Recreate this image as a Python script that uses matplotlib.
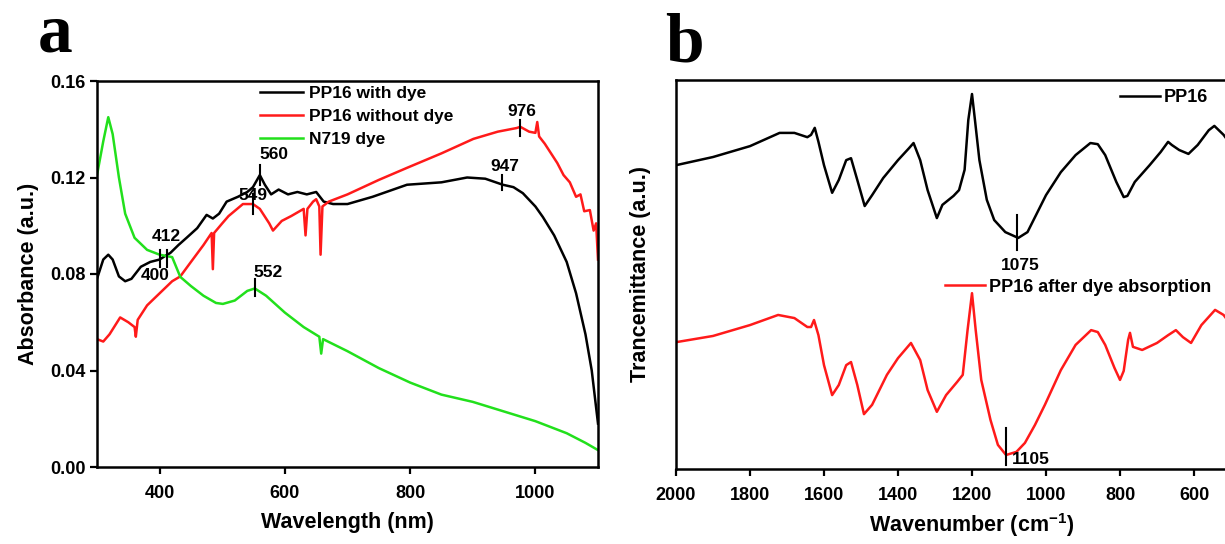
import matplotlib
matplotlib.use("Agg")
import matplotlib.pyplot as plt
from matplotlib.lines import Line2D

plt.rcParams['font.family'] = ['Liberation Sans', 'DejaVu Sans']
plt.rcParams['font.weight'] = 'bold'
plt.rcParams['mathtext.fontset'] = 'custom'
plt.rcParams['mathtext.bf'] = 'Liberation Sans:bold'
plt.rcParams['mathtext.rm'] = 'Liberation Sans:bold'

# ---------------- Panel a : UV-vis absorbance ----------------
wl_with = [300, 310, 318, 325, 335, 345, 355, 370, 385, 400, 412, 417, 430, 443, 460, 475, 485, 495,
           507, 525, 540, 549, 560, 568, 578, 590, 605, 620, 635, 650, 662, 677, 700, 740,
           795, 850, 891, 920, 948, 965, 980, 1000, 1012, 1030, 1050, 1065, 1080, 1090, 1100]
abs_with = [0.078, 0.086, 0.088, 0.086, 0.079, 0.077, 0.078, 0.083, 0.085, 0.086, 0.088, 0.0887, 0.092,
            0.095, 0.099, 0.1045, 0.103, 0.105, 0.110, 0.112, 0.114, 0.116, 0.121, 0.117, 0.113,
            0.115, 0.113, 0.114, 0.113, 0.114, 0.110, 0.109, 0.109, 0.112, 0.117, 0.118, 0.120,
            0.1195, 0.117, 0.116, 0.1135, 0.108, 0.1036, 0.096, 0.085, 0.072, 0.055, 0.040, 0.018]

wl_without = [300, 310, 320, 337, 350, 360, 362, 365, 380, 400, 420, 433, 450, 470, 483, 485, 487,
              500, 510, 533, 549, 560, 575, 581, 595, 610, 630, 633, 636, 645, 650, 655, 657,
              660, 670, 700, 750, 795, 850, 901, 940, 970, 976, 990, 1000, 1003, 1006, 1015,
              1025, 1035, 1045, 1055, 1065, 1072, 1078, 1087, 1093, 1097, 1100]
abs_without = [0.053, 0.052, 0.055, 0.062, 0.060, 0.058, 0.054, 0.061, 0.067, 0.072, 0.077, 0.079,
               0.085, 0.092, 0.097, 0.082, 0.097, 0.101, 0.104, 0.109, 0.109, 0.107, 0.101, 0.098,
               0.102, 0.104, 0.107, 0.096, 0.107, 0.110, 0.111, 0.108, 0.088, 0.108, 0.110, 0.113,
               0.119, 0.124, 0.130, 0.136, 0.139, 0.1405, 0.141, 0.139, 0.1385, 0.143, 0.137, 0.134,
               0.130, 0.126, 0.121, 0.118, 0.112, 0.113, 0.106, 0.1065, 0.098, 0.101, 0.086]

wl_dye = [300, 310, 318, 325, 335, 345, 360, 380, 400, 420, 433, 450, 470, 490, 501, 520, 540,
          552, 570, 600, 630, 655, 658, 661, 700, 750, 800, 850, 900, 950, 1000, 1050, 1080, 1100]
abs_dye = [0.121, 0.135, 0.145, 0.138, 0.120, 0.105, 0.095, 0.090, 0.088, 0.087, 0.0788, 0.075,
           0.071, 0.068, 0.0676, 0.069, 0.073, 0.074, 0.071, 0.064, 0.058, 0.054, 0.047, 0.053,
           0.048, 0.041, 0.035, 0.030, 0.027, 0.023, 0.019, 0.014, 0.010, 0.007]

# peak marks: (wavelength, y_low, y_high, label, label_x, label_y, ha)
peaks_a = [
    (560, 0.117, 0.125, "560", 559, 0.1295, "left"),
    (549, 0.105, 0.113, "549", 549, 0.1125, "center"),
    (412, 0.083, 0.090, "412", 410, 0.0955, "center"),
    (400, 0.083, 0.090, "400", 393, 0.0795, "center"),
    (552, 0.071, 0.078, "552", 550, 0.0805, "left"),
    (947, 0.115, 0.121, "947", 951, 0.1245, "center"),
    (976, 0.137, 0.144, "976", 979, 0.1475, "center"),
]

# ---------------- Panel b : FTIR ----------------
wn_pp16 = [2000, 1900, 1800, 1720, 1680, 1645, 1635, 1625, 1615, 1600, 1578, 1560, 1540, 1527,
           1510, 1490, 1470, 1440, 1400, 1370, 1358, 1340, 1320, 1295, 1280, 1250, 1235, 1220,
           1210, 1200, 1192, 1180, 1160, 1140, 1110, 1075, 1050, 1020, 1000, 960, 920, 880, 860,
           840, 810, 790, 780, 760, 720, 690, 670, 660, 640, 615, 590, 560, 545, 520, 500]
t_pp16 = [78.1, 80.2, 83.0, 86.4, 86.4, 85.3, 85.9, 87.7, 84.1, 78.1, 71.0, 74.3, 79.4, 79.9,
          74.3, 67.6, 70.4, 74.8, 79.4, 82.5, 83.8, 79.4, 71.7, 64.5, 67.9, 70.2, 71.7, 76.9,
          89.7, 96.4, 89.7, 79.4, 69.2, 64.0, 60.9, 59.4, 60.9, 66.6, 70.4, 76.3, 80.7, 83.8, 83.5,
          80.7, 73.8, 69.9, 70.2, 73.8, 78.1, 81.5, 84.1, 83.3, 82.0, 81.0, 83.3, 87.1, 88.2, 85.9, 83.3]

wn_after = [2000, 1900, 1800, 1724, 1680, 1645, 1635, 1627, 1615, 1600, 1578, 1560, 1540, 1527,
            1510, 1492, 1470, 1430, 1400, 1365, 1340, 1320, 1295, 1270, 1240, 1225, 1212, 1200,
            1190, 1175, 1150, 1130, 1108, 1080, 1057, 1030, 1003, 960, 920, 878, 860, 840, 815,
            800, 790, 778, 773, 765, 740, 700, 670, 649, 630, 608, 580, 543, 520, 500]
t_after = [32.6, 34.2, 37.0, 39.6, 38.8, 36.5, 36.5, 38.3, 34.4, 26.7, 19.0, 21.6, 26.7, 27.5,
           21.6, 14.1, 16.5, 24.2, 28.5, 32.4, 28.0, 20.3, 14.7, 19.0, 22.4, 24.2, 35.7, 45.2,
           35.7, 22.9, 12.6, 6.2, 3.6, 4.4, 6.7, 11.3, 16.5, 25.4, 31.9, 35.7, 35.2, 31.9, 26.0,
           22.9, 25.2, 33.2, 35.0, 31.4, 30.6, 32.4, 34.4, 35.7, 33.9, 32.4, 37.0, 40.9, 39.6, 37.0]

TICK_FS = 13
LABEL_FS = 15.5
ANN_FS = 12.5
LW = 1.8

fig = plt.figure(figsize=(12.25, 5.44), dpi=100)

axa = fig.add_axes([97/1225, 1-467/544, 501/1225, 386/544])
axa.plot(wl_with, abs_with, color='black', lw=LW, label='PP16 with dye')
axa.plot(wl_without, abs_without, color='#ff1a1a', lw=LW, label='PP16 without dye')
axa.plot(wl_dye, abs_dye, color='#22e01c', lw=LW, label='N719 dye')
axa.set_xlim(300, 1100)
axa.set_ylim(0, 0.16)
axa.set_xticks([400, 600, 800, 1000])
axa.set_yticks([0.00, 0.04, 0.08, 0.12, 0.16])
axa.set_yticklabels(["0.00", "0.04", "0.08", "0.12", "0.16"])
axa.set_xlabel("Wavelength (nm)", fontsize=LABEL_FS, fontweight='bold', labelpad=7)
axa.set_ylabel("Absorbance (a.u.)", fontsize=LABEL_FS, fontweight='bold', labelpad=8)
for wl, y0, y1, lab, lx, ly, ha in peaks_a:
    axa.plot([wl, wl], [y0, y1], color='black', lw=1.5)
    axa.text(lx, ly, lab, fontsize=ANN_FS, fontweight='bold', ha=ha, va='center')
axa.legend(loc='upper left', bbox_to_anchor=(260/1225, 1-86/544), bbox_transform=fig.transFigure,
           frameon=False, fontsize=ANN_FS, handlelength=2.5, handletextpad=0.3,
           labelspacing=0.45, borderaxespad=0, borderpad=0)

axb = fig.add_axes([676/1225, 1-469/544, 592/1225, 389/544])
axb.plot(wn_pp16, t_pp16, color='black', lw=LW)
axb.plot(wn_after, t_after, color='#ff1a1a', lw=LW)
axb.set_xlim(2000, 400)
axb.set_ylim(0, 100)
axb.set_xticks([2000, 1800, 1600, 1400, 1200, 1000, 800, 600])
axb.set_yticks([])
axb.set_xlabel("Wavenumber (cm$^{-1}$)", fontsize=LABEL_FS, fontweight='bold', labelpad=5)
axb.set_ylabel("Trancemittance (a.u.)", fontsize=LABEL_FS, fontweight='bold', labelpad=18)
axb.plot([1078, 1078], [56.3, 65.3], color='black', lw=1.5)
axb.text(1070, 52.4, "1075", fontsize=ANN_FS, fontweight='bold', ha='center', va='center')
axb.plot([1108, 1108], [1.0, 10.5], color='black', lw=1.5)
axb.text(1093, 2.4, "1105", fontsize=ANN_FS, fontweight='bold', ha='left', va='center')

h1 = [Line2D([], [], color='black', lw=LW)]
fig.legend(h1, ["PP16"], loc='center left', bbox_to_anchor=(1120/1225, 1-98/544), frameon=False,
           fontsize=13, handlelength=2.2, handletextpad=0.25, borderaxespad=0, borderpad=0)
h2 = [Line2D([], [], color='#ff1a1a', lw=LW)]
fig.legend(h2, ["PP16 after dye absorption"], loc='center left', bbox_to_anchor=(945/1225, 1-287/544),
           frameon=False, fontsize=13, handlelength=2.2, handletextpad=0.25, borderaxespad=0, borderpad=0)

for ax in (axa, axb):
    for sp in ax.spines.values():
        sp.set_linewidth(1.8)
    ax.tick_params(direction='out', length=5, width=1.6, labelsize=TICK_FS, pad=3)
    ax.tick_params(axis='x', pad=8)
    for t in ax.get_xticklabels() + ax.get_yticklabels():
        t.set_fontweight('bold')

fig.text(55/1225, 1-35/544, "a", family=['Liberation Serif', 'DejaVu Serif'], fontsize=50,
         fontweight='bold', ha='center', va='center')
fig.text(684/1225, 1-44/544, "b", family=['Liberation Serif', 'DejaVu Serif'], fontsize=50,
         fontweight='bold', ha='center', va='center')

fig.savefig("out.png", dpi=100)
